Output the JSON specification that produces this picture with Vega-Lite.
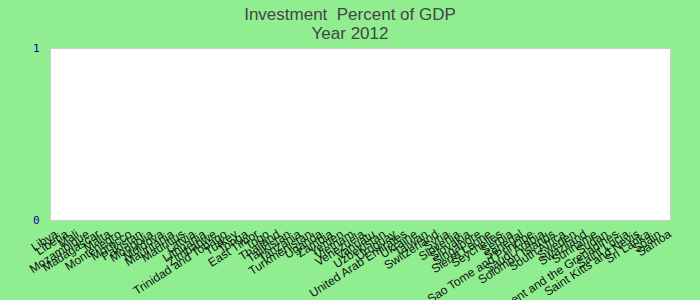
{
  "$schema": "https://vega.github.io/schema/vega-lite/v6.json",
  "autosize": "none",
  "width": 620,
  "height": 172,
  "padding": {"left": 50, "top": 48, "right": 30, "bottom": 80},
  "background": "#90EE90",
  "title": {
    "text": ["Investment\u00a0\u00a0Percent of GDP", "Year 2012"],
    "font": "Liberation Sans",
    "fontSize": 17,
    "fontWeight": "normal",
    "color": "#444444",
    "lineHeight": 19,
    "offset": -1,
    "anchor": "middle",
    "dx": -10
  },
  "config": {
    "view": {"fill": "white", "stroke": "#cccccc", "strokeWidth": 1}
  },
  "data": {
    "values": [
      {"country": "Libya", "value": 0},
      {"country": "Liberia", "value": 0},
      {"country": "Mali", "value": 0},
      {"country": "Mozambique", "value": 0},
      {"country": "Madagascar", "value": 0},
      {"country": "Malta", "value": 0},
      {"country": "Montenegro", "value": 0},
      {"country": "Morocco", "value": 0},
      {"country": "Pakistan", "value": 0},
      {"country": "Mongolia", "value": 0},
      {"country": "Moldova", "value": 0},
      {"country": "Mauritania", "value": 0},
      {"country": "Mauritius", "value": 0},
      {"country": "Latvia", "value": 0},
      {"country": "Lithuania", "value": 0},
      {"country": "Zimbabwe", "value": 0},
      {"country": "Trinidad and Tobago", "value": 0},
      {"country": "Turkey", "value": 0},
      {"country": "Tonga", "value": 0},
      {"country": "East Timor", "value": 0},
      {"country": "Togo", "value": 0},
      {"country": "Thailand", "value": 0},
      {"country": "Tajikistan", "value": 0},
      {"country": "Tanzania", "value": 0},
      {"country": "Turkmenistan", "value": 0},
      {"country": "Uganda", "value": 0},
      {"country": "Zambia", "value": 0},
      {"country": "Yemen", "value": 0},
      {"country": "Vietnam", "value": 0},
      {"country": "Venezuela", "value": 0},
      {"country": "Vanuatu", "value": 0},
      {"country": "Uzbekistan", "value": 0},
      {"country": "Uruguay", "value": 0},
      {"country": "United Arab Emirates", "value": 0},
      {"country": "Ukraine", "value": 0},
      {"country": "Taiwan", "value": 0},
      {"country": "Switzerland", "value": 0},
      {"country": "Syria", "value": 0},
      {"country": "Slovenia", "value": 0},
      {"country": "Slovakia", "value": 0},
      {"country": "Singapore", "value": 0},
      {"country": "Sierra Leone", "value": 0},
      {"country": "Seychelles", "value": 0},
      {"country": "Serbia", "value": 0},
      {"country": "Senegal", "value": 0},
      {"country": "Sao Tome and Principe", "value": 0},
      {"country": "Saudi Arabia", "value": 0},
      {"country": "Solomon Islands", "value": 0},
      {"country": "South Africa", "value": 0},
      {"country": "Sweden", "value": 0},
      {"country": "Swaziland", "value": 0},
      {"country": "Suriname", "value": 0},
      {"country": "Sudan", "value": 0},
      {"country": "Saint Vincent and the Grenadines", "value": 0},
      {"country": "Saint Lucia", "value": 0},
      {"country": "Saint Kitts and Nevis", "value": 0},
      {"country": "Sri Lanka", "value": 0},
      {"country": "Spain", "value": 0},
      {"country": "Samoa", "value": 0}
    ]
  },
  "mark": {"type": "bar", "color": "#3366cc"},
  "encoding": {
    "x": {
      "field": "country",
      "type": "nominal",
      "sort": null,
      "scale": {"type": "point", "padding": 0.3},
      "axis": {
        "title": null,
        "domain": false,
        "ticks": false,
        "labelAngle": -33,
        "labelAlign": "right",
        "labelBaseline": "top",
        "labelFont": "Liberation Sans",
        "labelFontSize": 12,
        "labelColor": "#111111",
        "labelPadding": 8,
        "labelOverlap": false,
        "labelLimit": 0
      }
    },
    "y": {
      "field": "value",
      "type": "quantitative",
      "scale": {"domain": [0, 1]},
      "axis": {
        "title": null,
        "values": [0, 1],
        "format": "d",
        "domain": false,
        "ticks": false,
        "grid": false,
        "labelFont": "DejaVu Sans Mono",
        "labelFontSize": 11,
        "labelColor": "#0000aa",
        "labelPadding": 11
      }
    }
  }
}
